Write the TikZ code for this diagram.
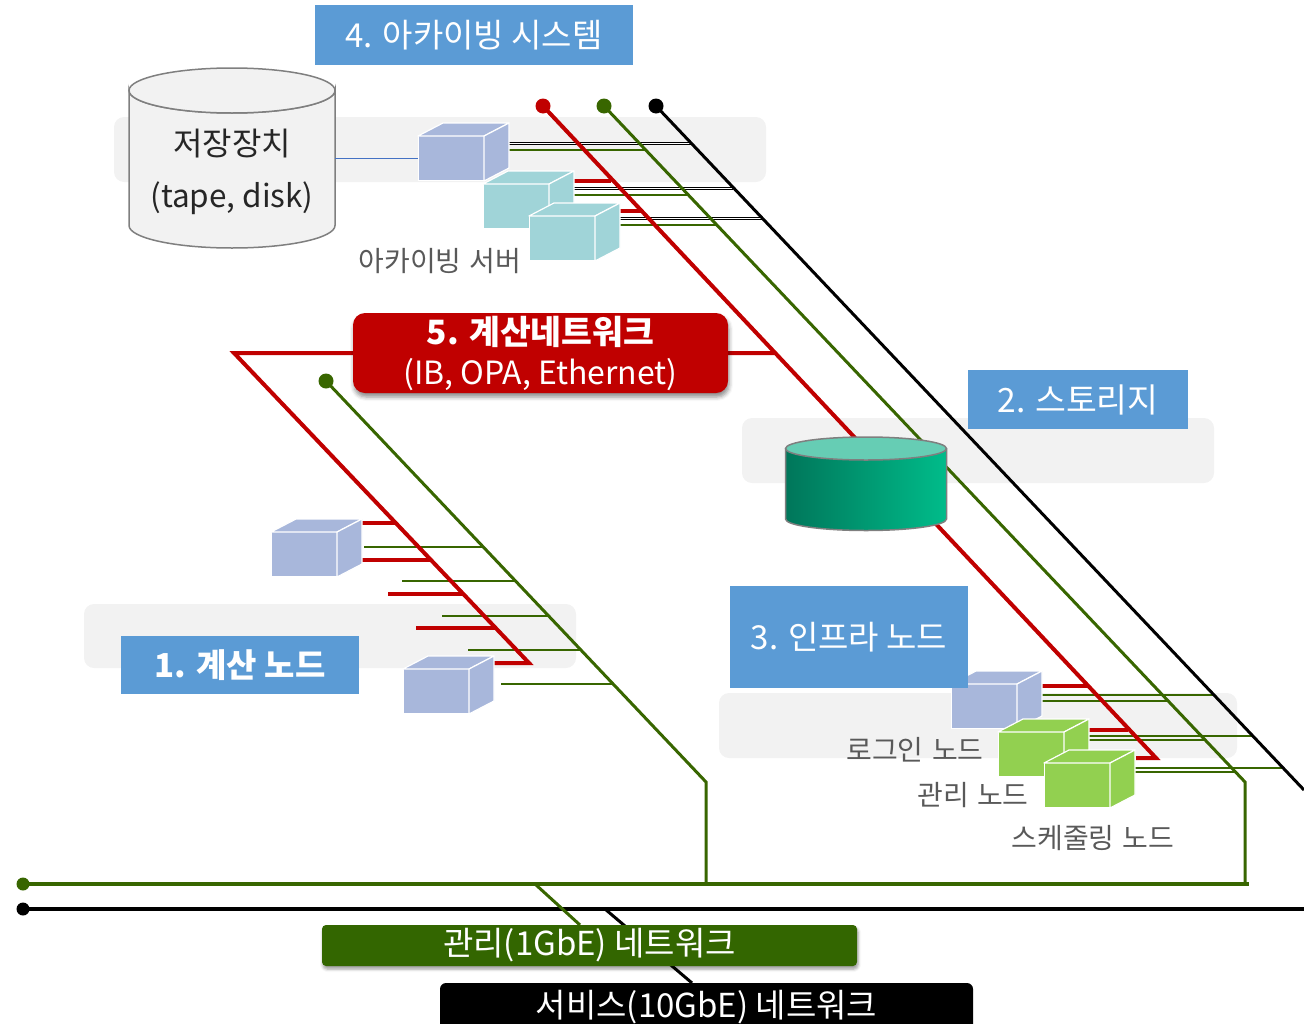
\documentclass[tikz,border=0pt]{standalone}
\usepackage{fontspec}
\setmainfont{Noto Sans CJK KR}
\newfontfamily\capfont{Noto Sans CJK KR}[WordSpace=1.35]
\usetikzlibrary{shadows.blur}
\definecolor{netred}{RGB}{192,0,0}
\definecolor{netgreen}{RGB}{56,102,0}
\definecolor{busgreen}{RGB}{51,102,0}
\definecolor{tierblue}{RGB}{91,155,213}
\definecolor{bandgray}{RGB}{242,242,242}
\definecolor{lavender}{RGB}{168,183,219}
\definecolor{paleteal}{RGB}{160,212,216}
\definecolor{leafgreen}{RGB}{146,208,80}
\definecolor{textgray}{RGB}{89,89,89}
\definecolor{edgegray}{RGB}{127,127,127}
\definecolor{linkblue}{RGB}{68,114,196}
\definecolor{tealdark}{RGB}{0,118,90}
\definecolor{teallight}{RGB}{0,188,138}
\definecolor{tealtop}{RGB}{102,205,180}

\tikzset{
  pics/cube/.style={code={
    \node[fill=#1, draw=white, line width=1.2pt, minimum width=66pt, minimum height=45pt,
          inner sep=0pt, anchor=south west] (-front) at (0,0) {};
    \draw[fill=#1, draw=white, line width=1.2pt, line join=round]
      (0,-45) -- (25,-58) -- (91,-58) -- (66,-45) -- cycle;
    \draw[fill=#1, draw=white, line width=1.2pt, line join=round]
      (66,-45) -- (91,-58) -- (91,-13) -- (66,0) -- cycle;
  }}
}

\begin{document}
\begin{tikzpicture}[x=1pt,y=-1pt,
  band/.style={fill=bandgray, rounded corners=10pt},
  tier/.style={fill=tierblue, text=white, inner sep=0pt,
               font=\fontsize{33}{38}\selectfont},
  caption/.style={text=textgray, inner sep=0pt, font=\capfont\fontsize{28}{32}\selectfont},
  netdot/.style={circle, fill=#1, inner sep=0pt, minimum size=15pt},
  busdot/.style={circle, fill=#1, inner sep=0pt, minimum size=13pt},
  redline/.style={netred, line width=4pt},
  redhoriz/.style={netred, line width=3.5pt},
  greenline/.style={netgreen, line width=3pt, line join=miter},
  blackline/.style={black, line width=3pt},
  rstub/.style={netred, line width=4pt},
  gstub/.style={netgreen, line width=2pt},
  kstub/.style={draw=black, line width=1pt, double=white, double distance=1pt},
  bus/.style={line width=4.5pt},
]
\useasboundingbox (0,0) rectangle (1304,1023);

% ---------- tier backgrounds ----------
\fill[band] (114,117) rectangle (766,182);
\fill[band] (742,418) rectangle (1214,483);
\fill[band] (84,604) rectangle (576,668);
\fill[band] (719,693) rectangle (1237,758);

% ---------- network end points ----------
\coordinate (rTop) at (543,106);
\coordinate (gTop) at (604,106);
\coordinate (kTop) at (656,106);
\coordinate (rEnd) at (1156,758);
\coordinate (rFoot) at (1136,758);
\coordinate (gEnd) at (1245,782);
\coordinate (gDrop) at (1245,884);
\coordinate (kEnd) at (1304,790);
\coordinate (cnLeft) at (234,353);
\coordinate (cnRight) at (774,353);
\coordinate (cnEnd) at (529,663);
\coordinate (cnFoot) at (494,663);
\coordinate (cgTop) at (326,381);
\coordinate (cgEnd) at (706,782);
\coordinate (cgDrop) at (706,884);
\coordinate (gBusL) at (23,884);
\coordinate (gBusR) at (1249,884);
\coordinate (kBusL) at (23,909);
\coordinate (kBusR) at (1304,909);
\coordinate (gTap) at (535,884);
\coordinate (kTap) at (605,909);

% ---------- stubs: archive servers ----------
\draw[kstub] (508,143) -- (691,143);
\draw[gstub] (508,150) -- (646,150);
\draw[rstub] (573,181) -- (611,181);
\draw[kstub] (573,188) -- (733,188);
\draw[gstub] (573,195) -- (688,195);
\draw[rstub] (620,211) -- (641,211);
\draw[kstub] (620,218) -- (762,218);
\draw[gstub] (620,225) -- (716,225);

% ---------- stubs: compute nodes ----------
\draw[rstub] (361,523) -- (397,523);
\draw[rstub] (361,560) -- (431,560);
\draw[rstub] (388,594) -- (463,594);
\draw[rstub] (416,628) -- (496,628);
\draw[gstub] (364,547) -- (483,547);
\draw[gstub] (402,581) -- (515,581);
\draw[gstub] (442,616) -- (548,616);
\draw[gstub] (468,650) -- (580,650);
\draw[gstub] (501,684) -- (612,684);

% ---------- stubs: infrastructure nodes ----------
\draw[rstub] (1040,686) -- (1087,686);
\draw[rstub] (1088,730) -- (1128,730);
\draw[gstub] (1040,695) -- (1214,695);
\draw[gstub] (1040,701) -- (1168,701);
\draw[gstub] (1088,736) -- (1253,736);
\draw[gstub] (1088,740) -- (1205,740);
\draw[gstub] (1134,768) -- (1283,768);
\draw[gstub] (1134,772) -- (1235,772);

% ---------- backbones ----------
\draw[redline] (rTop) -- (rEnd) -- (rFoot);
\draw[redhoriz] (cnLeft) -- (cnRight);
\draw[redline, line join=miter] (cnRight) -- (cnLeft) -- (cnEnd) -- (cnFoot);
\draw[greenline] (gTop) -- (gEnd) -- (gDrop);
\draw[greenline] (cgTop) -- (cgEnd) -- (cgDrop);
\draw[blackline] (kTop) -- (kEnd);
\draw[netgreen, bus] (gBusL) -- (gBusR);
\draw[black, bus] (kBusL) -- (kBusR);
\draw[netgreen, line width=3pt] (gTap) -- (580,925);
\draw[black, line width=3pt] (kTap) -- (692,983);

\node[netdot=netred] (rDot) at (rTop) {};
\node[netdot=netgreen] (gDot) at (gTop) {};
\node[netdot=black] (kDot) at (kTop) {};
\node[netdot=netgreen] (cgDot) at (cgTop) {};
\node[busdot=netgreen] (gBusDot) at (gBusL) {};
\node[busdot=black] (kBusDot) at (kBusL) {};

% ---------- archive storage (tape, disk) ----------
\draw[fill=bandgray, draw=edgegray, line width=1.5pt]
  (129,90.5) -- (129,225.5) arc[start angle=180, end angle=0, x radius=103, y radius=22.5]
  -- (335,90.5) arc[start angle=0, end angle=180, x radius=103, y radius=22.5] -- cycle;
\draw[fill=bandgray, draw=edgegray, line width=1.5pt] (232,90.5) ellipse[x radius=103, y radius=22.5];
\node[inner sep=0pt, text=black!85, font=\fontsize{32}{36}\selectfont] (tapeName) at (232,144) {저장장치};
\node[inner sep=0pt, text=black!85, font=\fontsize{31.5}{36}\selectfont] (tapeKind) at (232,198) {(tape, disk)};
\coordinate (tapePort) at (335,158);

% ---------- archive servers ----------
\pic (arch1) at (418,181) {cube=lavender};
\pic (arch2) at (483,229) {cube=paleteal};
\pic (arch3) at (529,261) {cube=paleteal};
\draw[linkblue, line width=1pt] (tapePort) -- (arch1-front.west |- tapePort);
\node[caption] (archCap) at (440,261) {아카이빙 서버};

% ---------- parallel storage ----------
\path[left color=tealdark, right color=teallight]
  (785.5,448.5) -- (785.5,519) arc[start angle=180, end angle=0, x radius=80.5, y radius=11.5]
  -- (946.5,448.5) arc[start angle=0, end angle=180, x radius=80.5, y radius=11.5] -- cycle;
\draw[draw=edgegray, line width=1.5pt]
  (785.5,448.5) -- (785.5,519) arc[start angle=180, end angle=0, x radius=80.5, y radius=11.5]
  -- (946.5,448.5);
\draw[fill=tealtop, draw=edgegray, line width=1.5pt] (866,448.5) ellipse[x radius=80.5, y radius=11.5];

% ---------- compute nodes ----------
\pic (compA) at (271,577) {cube=lavender};
\pic (compB) at (403,714) {cube=lavender};

% ---------- infrastructure nodes ----------
\pic (login) at (951,729) {cube=lavender};
\pic (mgmt) at (998,777) {cube=leafgreen};
\pic (sched) at (1044,808) {cube=leafgreen};
\node[caption] (loginCap) at (915,750) {로그인 노드};
\node[caption] (mgmtCap) at (973,795) {관리 노드};
\node[caption] (schedCap) at (1093,838) {스케줄링 노드};

% ---------- tier titles ----------
\node[tier, minimum width=318pt, minimum height=60pt] (archTitle) at (474,35) {4. 아카이빙 시스템};
\node[tier, minimum width=220pt, minimum height=59pt, font=\fontsize{33.5}{38}\selectfont] (storTitle) at (1078,399.5) {2. 스토리지};
\node[tier, minimum width=238pt, minimum height=58pt, font=\fontsize{33}{38}\selectfont\bfseries] (compTitle) at (240,665) {1. 계산 노드};
\node[tier, minimum width=238pt, minimum height=102pt] (infraTitle) at (849,637) {3. 인프라 노드};

% ---------- network titles ----------
\node[fill=netred, text=white, rounded corners=12pt, minimum width=375pt, minimum height=80pt,
      inner sep=0pt, align=center, font=\fontsize{32}{40}\selectfont,
      blur shadow={shadow xshift=1pt, shadow yshift=-4pt, shadow blur radius=4pt, shadow opacity=45}]
  (cnTitle) at (540.5,353) {{\fontsize{33.5}{40}\selectfont\bfseries 5. 계산네트워크}\\(IB, OPA, Ethernet)};
\node[fill=busgreen, text=white, rounded corners=4pt, minimum width=535pt, minimum height=41pt,
      inner sep=0pt, font=\fontsize{33}{36}\selectfont,
      blur shadow={shadow xshift=1pt, shadow yshift=-3pt, shadow blur radius=3pt, shadow opacity=40}]
  (mgmtNet) at (589.5,945.5) {관리(1GbE) 네트워크};
\node[fill=black, text=white, rounded corners=6pt, minimum width=533pt, minimum height=48pt,
      inner sep=0pt, font=\fontsize{33}{36}\selectfont]
  (svcNet) at (706.5,1007) {서비스(10GbE) 네트워크};
\end{tikzpicture}
\end{document}
